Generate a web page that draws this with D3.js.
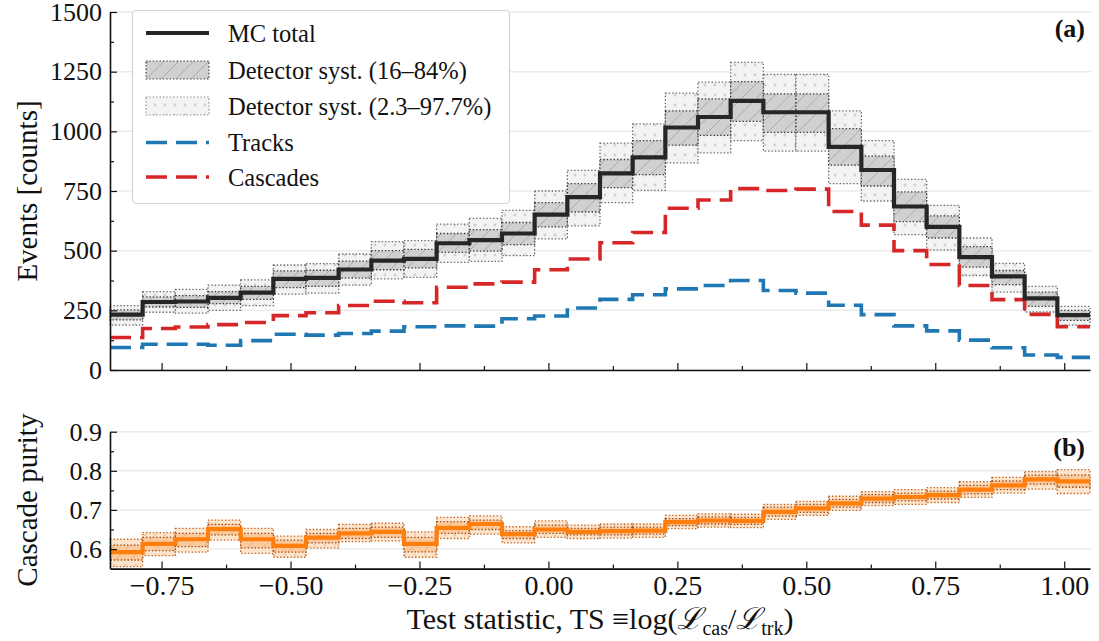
<!DOCTYPE html>
<html>
<head>
<meta charset="utf-8">
<script src="https://cdn.jsdelivr.net/npm/d3@7"></script>
<style>
body { margin: 0; background: #fff; }
svg text { font-family: "Liberation Serif", "Times New Roman", serif; fill: #111; }
</style>
</head>
<body>
<svg id="fig" width="1099" height="641"></svg>
<script>
// bin edges of the test statistic (30 bins)
const binEdges = [-0.85, -0.7867, -0.7233, -0.66, -0.5967, -0.5333, -0.47, -0.4067, -0.3433, -0.28,
  -0.2167, -0.1533, -0.09, -0.0267, 0.0367, 0.1, 0.1633, 0.2267, 0.29, 0.3533,
  0.4167, 0.48, 0.5433, 0.6067, 0.67, 0.7333, 0.7967, 0.86, 0.9233, 0.9867, 1.05];

// panel (a): event counts per bin
const mcTotal = [232, 285, 287, 302, 324, 382, 386, 421, 458, 466, 531, 544, 572, 651, 724,
  824, 891, 1016, 1060, 1128, 1080, 1080, 935, 838, 685, 600, 473, 392, 300, 230];
const cascades = [136, 174, 180, 190, 199, 228, 240, 270, 288, 282, 347, 361, 368, 420, 465,
  533, 576, 678, 712, 760, 752, 758, 664, 607, 500, 442, 354, 295, 233, 181];
const tracks = [94, 108, 108, 104, 123, 150, 146, 153, 163, 181, 185, 184, 215, 226, 260,
  296, 315, 340, 354, 375, 333, 322, 271, 232, 185, 164, 125, 93, 63, 53];

// detector systematics bands around MC total
const syst1Lo = [210, 264, 262, 278, 296, 345, 350, 385, 420, 428, 493, 498, 525, 600, 662,
  764, 819, 942, 983, 1042, 996, 996, 858, 771, 622, 553, 431, 358, 267, 208];
const syst1Hi = [252, 306, 312, 328, 350, 415, 418, 456, 500, 505, 572, 588, 618, 701, 781,
  882, 961, 1086, 1136, 1208, 1157, 1157, 1011, 896, 746, 646, 517, 417, 326, 250];
const syst2Lo = [188, 242, 238, 250, 270, 318, 322, 356, 382, 388, 451, 455, 479, 549, 604,
  701, 753, 868, 910, 961, 917, 917, 781, 708, 567, 503, 396, 326, 243, 188];
const syst2Hi = [270, 328, 338, 356, 378, 440, 446, 486, 538, 542, 611, 635, 669, 750, 836,
  951, 1031, 1160, 1206, 1289, 1239, 1239, 1086, 961, 799, 690, 553, 447, 350, 267];

// panel (b): cascade purity and its bands
const purity = [0.592, 0.613, 0.625, 0.651, 0.625, 0.608, 0.629, 0.640, 0.644, 0.613, 0.654, 0.664, 0.638, 0.650, 0.644,
  0.646, 0.647, 0.669, 0.673, 0.672, 0.695, 0.704, 0.717, 0.729, 0.733, 0.738, 0.752, 0.763, 0.778, 0.773];
const pur1Lo = [0.572, 0.596, 0.606, 0.636, 0.603, 0.592, 0.616, 0.627, 0.630, 0.593, 0.640, 0.650, 0.627, 0.640, 0.636,
  0.636, 0.638, 0.660, 0.664, 0.663, 0.684, 0.694, 0.707, 0.719, 0.723, 0.728, 0.741, 0.752, 0.766, 0.758];
const pur1Hi = [0.610, 0.630, 0.640, 0.663, 0.640, 0.623, 0.640, 0.653, 0.656, 0.630, 0.670, 0.674, 0.647, 0.661, 0.653,
  0.656, 0.656, 0.678, 0.682, 0.681, 0.707, 0.714, 0.727, 0.739, 0.743, 0.748, 0.763, 0.774, 0.789, 0.789];
const pur2Lo = [0.555, 0.583, 0.592, 0.623, 0.589, 0.579, 0.603, 0.619, 0.621, 0.579, 0.627, 0.638, 0.616, 0.630, 0.627,
  0.628, 0.630, 0.652, 0.656, 0.655, 0.676, 0.686, 0.699, 0.711, 0.714, 0.719, 0.732, 0.743, 0.753, 0.742];
const pur2Hi = [0.625, 0.642, 0.653, 0.674, 0.653, 0.633, 0.650, 0.663, 0.666, 0.644, 0.681, 0.685, 0.657, 0.672, 0.661,
  0.664, 0.664, 0.686, 0.690, 0.689, 0.714, 0.722, 0.735, 0.747, 0.752, 0.757, 0.772, 0.783, 0.798, 0.803];

const xMajor = [-0.75, -0.5, -0.25, 0, 0.25, 0.5, 0.75, 1.0];
const xMinor = [-0.625, -0.375, -0.125, 0.125, 0.375, 0.625, 0.875];
const yATicks = [0, 250, 500, 750, 1000, 1250, 1500];
const yAMinor = [125, 375, 625, 875, 1125, 1375];
const yBTicks = [0.6, 0.7, 0.8, 0.9];
const yBMinor = [0.65, 0.75, 0.85];

const left = 110, right = 1090;
const topA = 12, botA = 370;
const topB = 431.7, botB = 568.6;

const svg = d3.select("#fig");
const x = d3.scaleLinear([-0.85, 1.05], [left, right]);
const yA = d3.scaleLinear([0, 1500], [botA, topA]);
const yB = d3.scaleLinear([0.55, 0.9], [botB, topB]);

// fill patterns
const defs = svg.append("defs");
function hatch(id, bg, ink) {
  const p = defs.append("pattern").attr("id", id).attr("patternUnits", "userSpaceOnUse")
    .attr("width", 15).attr("height", 15);
  p.append("rect").attr("width", 15).attr("height", 15).attr("fill", bg);
  p.append("path").attr("d", "M0,15 L15,0 M-4,4 L4,-4 M11,19 L19,11")
    .attr("stroke", ink).attr("stroke-width", 0.9);
}
function dots(id, bg, ink) {
  const p = defs.append("pattern").attr("id", id).attr("patternUnits", "userSpaceOnUse")
    .attr("width", 10).attr("height", 10);
  p.append("rect").attr("width", 10).attr("height", 10).attr("fill", bg);
  p.append("circle").attr("cx", 5).attr("cy", 5).attr("r", 1.4).attr("fill", ink);
}
hatch("hatchGray", "#d0d0d0", "#a6a6a6");
dots("dotsGray", "#f3f3f3", "#d0d0d0");
hatch("hatchOrange", "#fbcba0", "#eeaa78");
dots("dotsOrange", "#fde4cd", "#f8cda8");

function grid(yScale, ticks) {
  svg.append("g").selectAll("line").data(ticks).join("line")
    .attr("x1", left).attr("x2", right + 1)
    .attr("y1", d => yScale(d)).attr("y2", d => yScale(d))
    .attr("stroke", "#ebebeb").attr("stroke-width", 1.5);
}

function bands(yScale, lo, hi, fill, edge) {
  svg.append("g").selectAll("rect").data(lo).join("rect")
    .attr("x", (d, i) => x(binEdges[i]))
    .attr("width", (d, i) => x(binEdges[i + 1]) - x(binEdges[i]))
    .attr("y", (d, i) => yScale(hi[i]))
    .attr("height", (d, i) => yScale(lo[i]) - yScale(hi[i]))
    .attr("fill", fill)
    .attr("stroke", edge).attr("stroke-width", 1.3).attr("stroke-dasharray", "1.4,2");
}

function steps(yScale, vals, color, width, dash) {
  const pts = binEdges.map((e, i) => ({ x: e, y: vals[Math.min(i, vals.length - 1)] }));
  svg.append("path").datum(pts)
    .attr("fill", "none").attr("stroke", color).attr("stroke-width", width)
    .attr("stroke-dasharray", dash)
    .attr("d", d3.line().x(d => x(d.x)).y(d => yScale(d.y)).curve(d3.curveStepAfter));
}

function axes(yScale, yTicks, yMinor, yFmt, bottom, labels) {
  const ya = svg.append("g").attr("transform", `translate(${left},0)`)
    .call(d3.axisLeft(yScale).tickValues(yTicks).tickFormat(yFmt)
      .tickSizeInner(-7).tickSizeOuter(0).tickPadding(8));
  svg.append("g").attr("transform", `translate(${left},0)`)
    .call(d3.axisLeft(yScale).tickValues(yMinor).tickFormat("").tickSizeInner(-4).tickSizeOuter(0))
    .select(".domain").remove();
  const xa = svg.append("g").attr("transform", `translate(0,${bottom})`)
    .call(d3.axisBottom(x).tickValues(xMajor).tickFormat(labels ? d3.format(".2f") : "")
      .tickSizeInner(-7).tickSizeOuter(0).tickPadding(7));
  svg.append("g").attr("transform", `translate(0,${bottom})`)
    .call(d3.axisBottom(x).tickValues(xMinor).tickFormat("").tickSizeInner(-4).tickSizeOuter(0))
    .select(".domain").remove();
  svg.selectAll(".domain").attr("stroke", "#111").attr("stroke-width", 1.6);
  svg.selectAll(".tick line").attr("stroke", "#111").attr("stroke-width", 1.2);
  ya.selectAll("text").attr("font-size", 26).attr("font-family", "Liberation Serif");
  xa.selectAll("text").attr("font-size", 28).attr("font-family", "Liberation Serif");
}

// ---- panel (a)
grid(yA, yATicks);
bands(yA, syst2Lo, syst2Hi, "url(#dotsGray)", "#6a6a6a");
bands(yA, syst1Lo, syst1Hi, "url(#hatchGray)", "#3a3a3a");
steps(yA, tracks, "#1f77b4", 3.6, "21,9");
steps(yA, cascades, "#d62728", 3.6, "21,9");
steps(yA, mcTotal, "#262626", 4.2, null);
axes(yA, yATicks, yAMinor, d3.format("d"), botA, false);

// ---- panel (b)
grid(yB, yBTicks);
bands(yB, pur2Lo, pur2Hi, "url(#dotsOrange)", "#c0651f");
bands(yB, pur1Lo, pur1Hi, "url(#hatchOrange)", "#9a4a14");
steps(yB, purity, "#ff7f0e", 4.2, null);
axes(yB, yBTicks, yBMinor, d3.format(".1f"), botB, true);

// ---- legend
const leg = svg.append("g");
leg.append("rect").attr("x", 132.5).attr("y", 10.5).attr("width", 377).attr("height", 193)
  .attr("rx", 4).attr("fill", "#fff").attr("stroke", "#d4d4d4").attr("stroke-width", 1.2);
const legendRows = [
  { label: "MC total", kind: "line", color: "#262626", dash: null, w: 4.2 },
  { label: "Detector syst. (16\u201384%)", kind: "band", fill: "url(#hatchGray)", edge: "#3a3a3a" },
  { label: "Detector syst. (2.3\u201397.7%)", kind: "band", fill: "url(#dotsGray)", edge: "#8a8a8a" },
  { label: "Tracks", kind: "line", color: "#1f77b4", dash: "21,9", w: 3.6 },
  { label: "Cascades", kind: "line", color: "#d62728", dash: "21,9", w: 3.6 }
];
const rowY = [33, 70, 106, 142.5, 177];
legendRows.forEach((r, i) => {
  const cy = rowY[i];
  if (r.kind === "line") {
    leg.append("line").attr("x1", 146).attr("x2", 209).attr("y1", cy).attr("y2", cy)
      .attr("stroke", r.color).attr("stroke-width", r.w).attr("stroke-dasharray", r.dash);
  } else {
    leg.append("rect").attr("x", 146).attr("y", cy - 9).attr("width", 63).attr("height", 18)
      .attr("fill", r.fill).attr("stroke", r.edge).attr("stroke-width", 1.2)
      .attr("stroke-dasharray", "1.4,2");
  }
  leg.append("text").attr("x", 228).attr("y", cy + 8.5).attr("font-size", 24.5).text(r.label);
});

// ---- panel tags
svg.append("text").attr("x", 1085).attr("y", 37).attr("text-anchor", "end")
  .attr("font-size", 26).attr("font-weight", "bold").text("(a)");
svg.append("text").attr("x", 1085).attr("y", 456).attr("text-anchor", "end")
  .attr("font-size", 26).attr("font-weight", "bold").text("(b)");

// ---- axis titles
svg.append("text").attr("transform", `translate(37,${(topA + botA) / 2}) rotate(-90)`)
  .attr("text-anchor", "middle").attr("font-size", 29).text("Events [counts]");
svg.append("text").attr("transform", `translate(37,${(topB + botB) / 2}) rotate(-90)`)
  .attr("text-anchor", "middle").attr("font-size", 29).text("Cascade purity");

const xt = svg.append("text").attr("x", (left + right) / 2).attr("y", 629)
  .attr("text-anchor", "middle").attr("font-size", 30);
xt.append("tspan").text("Test statistic, TS \u2261log(");
xt.append("tspan").attr("font-style", "italic").text("\u2112");
xt.append("tspan").attr("font-size", 20).attr("dy", 6).text("cas");
xt.append("tspan").attr("dy", -6).text("/");
xt.append("tspan").attr("font-style", "italic").text("\u2112");
xt.append("tspan").attr("font-size", 20).attr("dy", 6).text("trk");
xt.append("tspan").attr("dy", -6).text(")");
</script>
</body>
</html>
